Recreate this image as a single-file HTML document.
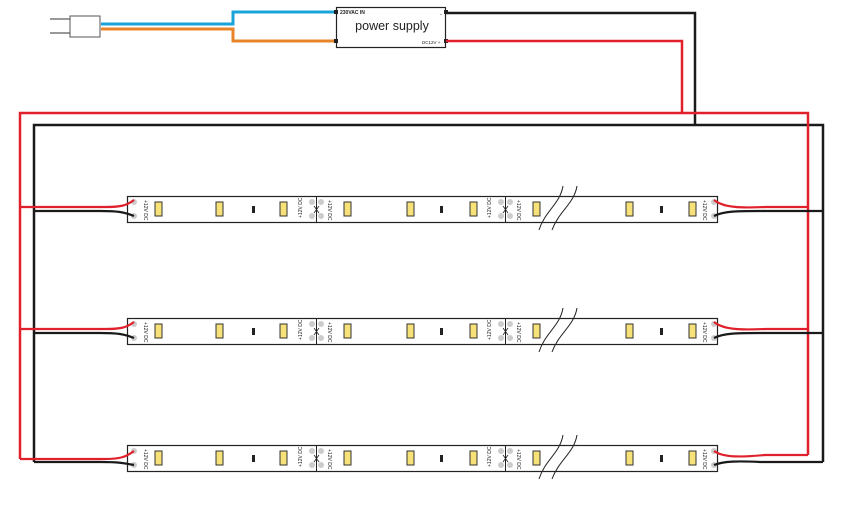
<!DOCTYPE html>
<html><head><meta charset="utf-8"><style>html,body{margin:0;padding:0;background:#fff}svg{display:block}</style></head><body>
<svg width="852" height="517" viewBox="0 0 852 517" xmlns="http://www.w3.org/2000/svg" font-family="Liberation Sans, sans-serif">
<!-- plug -->
<g stroke="#555" stroke-width="1" fill="#fff">
<path d="M50,19 H70 M50,33 H70" stroke="#333"/>
<rect x="70" y="16" width="30" height="21"/>
</g>
<path d="M101,24 H233 V12 H336" stroke="#1aa3d9" stroke-width="3" fill="none"/>
<path d="M101,29 H233 V41 H336" stroke="#e8852a" stroke-width="3" fill="none"/>
<!-- power supply -->
<rect x="336.5" y="7.5" width="109" height="40" fill="#fff" stroke="#222" stroke-width="1.2"/>
<rect x="334" y="10" width="4" height="4" fill="#222"/><rect x="334" y="39" width="4" height="4" fill="#222"/>
<rect x="444" y="10" width="4" height="4" fill="#222"/><rect x="444" y="39" width="4" height="4" fill="#222"/>
<text x="340" y="14" font-size="5" font-weight="bold" fill="#222">230VAC IN</text>
<text x="392" y="30" font-size="12.5" text-anchor="middle" fill="#222">power supply</text>
<text x="440" y="16" font-size="6" fill="#222">-</text>
<text x="422" y="44" font-size="4.5" fill="#222">DC12V +</text>
<!-- feeders -->
<path d="M446,13 H695 V125" stroke="#1a1a1a" stroke-width="2.5" fill="none"/>
<path d="M446,41 H682 V113" stroke="#e0202a" stroke-width="2.5" fill="none"/>
<!-- bus -->
<path d="M34,462 V125 H823 V462" stroke="#1a1a1a" stroke-width="2.5" fill="none"/>
<path d="M20,459 V113 H808 V455" stroke="#e0202a" stroke-width="2.5" fill="none"/>

<!-- strips -->
<g transform="translate(0,196)">
<rect x="127.5" y="0.5" width="590" height="26" fill="#fff" stroke="#222" stroke-width="1.2"/>
<path d="M316.5,0 V26 M505.5,0 V26" stroke="#222"/>
<g fill="#ccc"><circle cx="134" cy="6" r="3"/><circle cx="134" cy="20" r="3"/><circle cx="312" cy="6" r="3"/><circle cx="312" cy="20" r="3"/><circle cx="321" cy="6" r="3"/><circle cx="321" cy="20" r="3"/><circle cx="501" cy="6" r="3"/><circle cx="501" cy="20" r="3"/><circle cx="510" cy="6" r="3"/><circle cx="510" cy="20" r="3"/><circle cx="714" cy="6" r="3"/><circle cx="714" cy="20" r="3"/></g>
<path d="M314,10 L319,17 M319,10 L314,17 M503,10 L508,17 M508,10 L503,17" stroke="#222" stroke-width="0.8"/>
<g fill="#f7e27a" stroke="#333" stroke-width="1"><rect x="155" y="6" width="7" height="14"/><rect x="216" y="6" width="7" height="14"/><rect x="280" y="6" width="7" height="14"/><rect x="344" y="6" width="7" height="14"/><rect x="407" y="6" width="7" height="14"/><rect x="470" y="6" width="7" height="14"/><rect x="533" y="6" width="7" height="14"/><rect x="626" y="6" width="7" height="14"/><rect x="689" y="6" width="7" height="14"/></g>
<g fill="#222"><rect x="252" y="10" width="3" height="7"/><rect x="440" y="10" width="3" height="7"/><rect x="660" y="10" width="3" height="7"/></g>
<g font-size="5" fill="#222"><text transform="translate(144,4) rotate(90)">+12V DC</text><text transform="translate(302,22) rotate(-90)">+12V DC</text><text transform="translate(328,4) rotate(90)">+12V DC</text><text transform="translate(491,22) rotate(-90)">+12V DC</text><text transform="translate(517,4) rotate(90)">+12V DC</text><text transform="translate(703,4) rotate(90)">+12V DC</text></g>
<path d="M563,-10 C560,8 545,15 539,34 M577,-10 C574,8 559,15 552,34" stroke="#222" fill="none" stroke-width="1"/>
</g>
<g transform="translate(0,318)">
<rect x="127.5" y="0.5" width="590" height="26" fill="#fff" stroke="#222" stroke-width="1.2"/>
<path d="M316.5,0 V26 M505.5,0 V26" stroke="#222"/>
<g fill="#ccc"><circle cx="134" cy="6" r="3"/><circle cx="134" cy="20" r="3"/><circle cx="312" cy="6" r="3"/><circle cx="312" cy="20" r="3"/><circle cx="321" cy="6" r="3"/><circle cx="321" cy="20" r="3"/><circle cx="501" cy="6" r="3"/><circle cx="501" cy="20" r="3"/><circle cx="510" cy="6" r="3"/><circle cx="510" cy="20" r="3"/><circle cx="714" cy="6" r="3"/><circle cx="714" cy="20" r="3"/></g>
<path d="M314,10 L319,17 M319,10 L314,17 M503,10 L508,17 M508,10 L503,17" stroke="#222" stroke-width="0.8"/>
<g fill="#f7e27a" stroke="#333" stroke-width="1"><rect x="155" y="6" width="7" height="14"/><rect x="216" y="6" width="7" height="14"/><rect x="280" y="6" width="7" height="14"/><rect x="344" y="6" width="7" height="14"/><rect x="407" y="6" width="7" height="14"/><rect x="470" y="6" width="7" height="14"/><rect x="533" y="6" width="7" height="14"/><rect x="626" y="6" width="7" height="14"/><rect x="689" y="6" width="7" height="14"/></g>
<g fill="#222"><rect x="252" y="10" width="3" height="7"/><rect x="440" y="10" width="3" height="7"/><rect x="660" y="10" width="3" height="7"/></g>
<g font-size="5" fill="#222"><text transform="translate(144,4) rotate(90)">+12V DC</text><text transform="translate(302,22) rotate(-90)">+12V DC</text><text transform="translate(328,4) rotate(90)">+12V DC</text><text transform="translate(491,22) rotate(-90)">+12V DC</text><text transform="translate(517,4) rotate(90)">+12V DC</text><text transform="translate(703,4) rotate(90)">+12V DC</text></g>
<path d="M563,-10 C560,8 545,15 539,34 M577,-10 C574,8 559,15 552,34" stroke="#222" fill="none" stroke-width="1"/>
</g>
<g transform="translate(0,445)">
<rect x="127.5" y="0.5" width="590" height="26" fill="#fff" stroke="#222" stroke-width="1.2"/>
<path d="M316.5,0 V26 M505.5,0 V26" stroke="#222"/>
<g fill="#ccc"><circle cx="134" cy="6" r="3"/><circle cx="134" cy="20" r="3"/><circle cx="312" cy="6" r="3"/><circle cx="312" cy="20" r="3"/><circle cx="321" cy="6" r="3"/><circle cx="321" cy="20" r="3"/><circle cx="501" cy="6" r="3"/><circle cx="501" cy="20" r="3"/><circle cx="510" cy="6" r="3"/><circle cx="510" cy="20" r="3"/><circle cx="714" cy="6" r="3"/><circle cx="714" cy="20" r="3"/></g>
<path d="M314,10 L319,17 M319,10 L314,17 M503,10 L508,17 M508,10 L503,17" stroke="#222" stroke-width="0.8"/>
<g fill="#f7e27a" stroke="#333" stroke-width="1"><rect x="155" y="6" width="7" height="14"/><rect x="216" y="6" width="7" height="14"/><rect x="280" y="6" width="7" height="14"/><rect x="344" y="6" width="7" height="14"/><rect x="407" y="6" width="7" height="14"/><rect x="470" y="6" width="7" height="14"/><rect x="533" y="6" width="7" height="14"/><rect x="626" y="6" width="7" height="14"/><rect x="689" y="6" width="7" height="14"/></g>
<g fill="#222"><rect x="252" y="10" width="3" height="7"/><rect x="440" y="10" width="3" height="7"/><rect x="660" y="10" width="3" height="7"/></g>
<g font-size="5" fill="#222"><text transform="translate(144,4) rotate(90)">+12V DC</text><text transform="translate(302,22) rotate(-90)">+12V DC</text><text transform="translate(328,4) rotate(90)">+12V DC</text><text transform="translate(491,22) rotate(-90)">+12V DC</text><text transform="translate(517,4) rotate(90)">+12V DC</text><text transform="translate(703,4) rotate(90)">+12V DC</text></g>
<path d="M563,-10 C560,8 545,15 539,34 M577,-10 C574,8 559,15 552,34" stroke="#222" fill="none" stroke-width="1"/>
</g>

<!-- row wires (on top of strips) -->
<g fill="none" stroke-width="2.2">
<path d="M34,211 H100 C118,211 124,212 134,216" stroke="#1a1a1a"/>
<path d="M20,207 H105 C120,207 126,206 134,200" stroke="#e0202a"/>
<path d="M823,211 H760 C738,211 724,211 714,216" stroke="#1a1a1a"/>
<path d="M808,207 H765 C742,208 724,208 714,200" stroke="#e0202a"/>

<path d="M34,333 H100 C118,333 124,334 134,338" stroke="#1a1a1a"/>
<path d="M20,329 H105 C120,329 126,328 134,322" stroke="#e0202a"/>
<path d="M823,333 H760 C738,333 724,333 714,338" stroke="#1a1a1a"/>
<path d="M808,329 H765 C742,330 724,330 714,322" stroke="#e0202a"/>

<path d="M34,462 H100 C118,462 124,463 134,465" stroke="#1a1a1a"/>
<path d="M20,459 H105 C120,459 126,457 134,451" stroke="#e0202a"/>
<path d="M823,462 H760 C738,461 724,461 714,465" stroke="#1a1a1a"/>
<path d="M808,455 H765 C742,457 724,458 714,451" stroke="#e0202a"/>
</g>
</svg>
</body></html>
